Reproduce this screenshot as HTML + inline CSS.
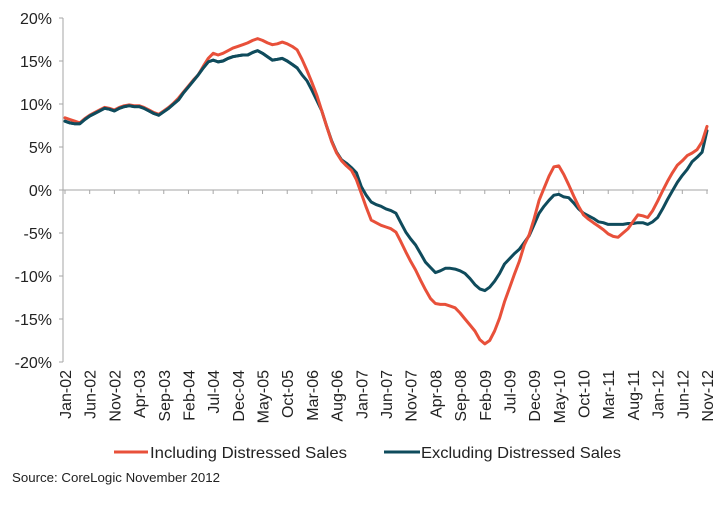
<!DOCTYPE html>
<html><head><meta charset="utf-8"><style>
html,body{margin:0;padding:0;background:#fff;}
svg{display:block;font-family:"Liberation Sans",Arial,sans-serif;}
</style></head><body>
<svg id="chart" width="728" height="510" viewBox="0 0 728 510"></svg>
<script>
const yTicks=[20,15,10,5,0,-5,-10,-15,-20];
const monthNames=["Jan","Feb","Mar","Apr","May","Jun","Jul","Aug","Sep","Oct","Nov","Dec"];
const including=[8.4,8.2,8.0,7.8,8.3,8.7,9.0,9.3,9.6,9.5,9.3,9.6,9.8,9.9,9.8,9.8,9.6,9.3,9.0,8.8,
9.2,9.6,10.1,10.7,11.4,12.1,12.8,13.4,14.4,15.3,15.9,15.7,15.9,16.2,16.5,16.7,16.9,17.1,17.4,17.6,
17.4,17.1,16.9,17.0,17.2,17.0,16.7,16.3,15.2,13.9,12.5,11.0,9.2,7.4,5.6,4.3,3.4,2.8,2.3,1.2,
-0.4,-2.0,-3.5,-3.8,-4.1,-4.3,-4.5,-4.9,-6.0,-7.2,-8.3,-9.3,-10.5,-11.6,-12.6,-13.2,-13.3,-13.3,-13.5,-13.7,
-14.3,-15.0,-15.7,-16.4,-17.4,-17.9,-17.5,-16.4,-14.9,-13.0,-11.4,-9.8,-8.3,-6.4,-5.2,-3.3,-1.2,0.2,1.6,2.7,
2.8,1.8,0.6,-0.7,-1.9,-2.9,-3.4,-3.8,-4.2,-4.6,-5.1,-5.4,-5.5,-5.0,-4.5,-3.7,-2.9,-3.0,-3.2,-2.4,
-1.3,-0.1,1.0,2.0,2.9,3.4,4.0,4.3,4.7,5.6,7.4];
const excluding=[8.0,7.8,7.7,7.7,8.2,8.6,8.9,9.2,9.5,9.4,9.2,9.5,9.7,9.8,9.7,9.7,9.5,9.2,8.9,8.7,
9.1,9.5,10.0,10.5,11.3,12.0,12.7,13.4,14.2,14.9,15.1,14.9,15.0,15.3,15.5,15.6,15.7,15.7,16.0,16.2,
15.9,15.5,15.1,15.2,15.3,15.0,14.6,14.2,13.4,12.7,11.6,10.4,9.2,7.4,5.7,4.4,3.5,3.1,2.6,2.0,
0.4,-0.6,-1.4,-1.7,-1.9,-2.2,-2.4,-2.7,-3.8,-4.9,-5.7,-6.4,-7.4,-8.4,-9.0,-9.6,-9.4,-9.1,-9.1,-9.2,
-9.4,-9.7,-10.3,-11.0,-11.5,-11.7,-11.3,-10.6,-9.7,-8.6,-8.0,-7.4,-6.9,-6.1,-5.3,-4.0,-2.7,-1.9,-1.2,-0.6,
-0.5,-0.8,-0.9,-1.5,-2.2,-2.7,-3.0,-3.3,-3.7,-3.8,-4.0,-4.0,-4.0,-4.0,-3.9,-3.9,-3.8,-3.8,-4.0,-3.7,
-3.2,-2.2,-1.1,-0.1,0.9,1.7,2.4,3.3,3.8,4.4,6.9];
const categories=[];
for(let i=0;i<including.length;i++){const m=i%12,yr=2+Math.floor(i/12);categories.push(monthNames[m]+"-"+String(yr).padStart(2,"0"));}

const NS="http://www.w3.org/2000/svg";
const svg=document.getElementById("chart");
const X0=65,X1=707,Y0=18,Y1=362,VMAX=20,VMIN=-20;
const n=categories.length;
function xs(i){return X0+(X1-X0)*i/(n-1);}
function ys(v){return Y0+(VMAX-v)/(VMAX-VMIN)*(Y1-Y0);}
function mk(tag,attrs,parent){const e=document.createElementNS(NS,tag);for(const k in attrs)e.setAttribute(k,attrs[k]);(parent||svg).appendChild(e);return e;}

const yAxis=mk("line",{x1:63,y1:Y0,x2:63,y2:Y1,stroke:"#a6a6a6","stroke-width":1});


yTicks.forEach(v=>{
  const t=mk("line",{x1:59,y1:ys(v),x2:63,y2:ys(v),stroke:"#a6a6a6"});
  
  
  const l=mk("text",{x:52,y:ys(v)+6,"text-anchor":"end","font-size":16,fill:"#222"});
  l.textContent=v+"%";
  
  
});
const xAxis=mk("line",{x1:63,y1:ys(0),x2:X1+1,y2:ys(0),stroke:"#a6a6a6","stroke-width":1});


for(let i=0;i<n;i+=5){
  const t=mk("line",{x1:xs(i),y1:ys(0),x2:xs(i),y2:ys(0)+4,stroke:"#a6a6a6"});
  
  
  const x=xs(i)+6;
  const l=mk("text",{x:x,y:370,transform:"rotate(-90 "+x+" 370)","text-anchor":"end","font-size":16,fill:"#222"});
  l.textContent=categories[i];
  
  
}
function line(data,color,name){
  const d=data.map((v,i)=>(i?"L":"M")+xs(i).toFixed(1)+" "+ys(v).toFixed(1)).join(" ");
  const p=mk("path",{d:d,fill:"none",stroke:color,"stroke-width":3,"stroke-linejoin":"round","stroke-linecap":"round"});
  
  
}
line(excluding,"#0f4b5c","excluding-distressed-line");
line(including,"#e8503a","including-distressed-line");
line(excluding.slice(0,48),"#0f4b5c","excluding-distressed-line-early");

const lg=mk("g",{});


const s1=mk("line",{x1:114,y1:452,x2:148,y2:452,stroke:"#e8503a","stroke-width":3},lg);


const t1=mk("text",{x:150,y:458,"font-size":16,fill:"#222",textLength:197,lengthAdjust:"spacingAndGlyphs"},lg);
t1.textContent="Including Distressed Sales";


const s2=mk("line",{x1:384,y1:452,x2:420,y2:452,stroke:"#0f4b5c","stroke-width":3},lg);


const t2=mk("text",{x:421,y:458,"font-size":16,fill:"#222",textLength:200,lengthAdjust:"spacingAndGlyphs"},lg);
t2.textContent="Excluding Distressed Sales";


const src=mk("text",{x:12,y:482,"font-size":13,fill:"#222",textLength:208,lengthAdjust:"spacingAndGlyphs"});
src.textContent="Source: CoreLogic November  2012";


</script>
</body></html>
